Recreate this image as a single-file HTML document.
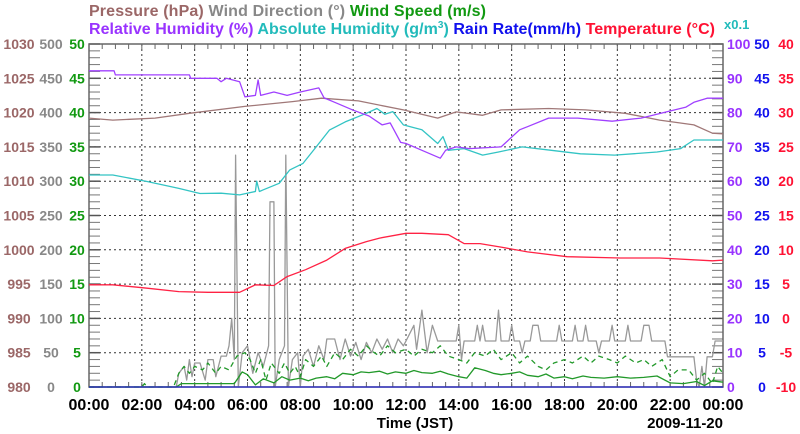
<!DOCTYPE html>
<html><head><meta charset="utf-8"><style>
html,body{margin:0;padding:0;background:#fff;}
svg{display:block;font-family:"Liberation Sans",Arial,sans-serif;font-weight:bold;}
</style></head><body>
<svg id="chart" width="800" height="434" viewBox="0 0 800 434">
<g font-size="16">
<text x="89" y="16" textLength="397" lengthAdjust="spacing"><tspan fill="#9b6767">Pressure (hPa)</tspan> <tspan fill="#888">Wind Direction (°)</tspan> <tspan fill="#119911">Wind Speed (m/s)</tspan></text>
<text x="89" y="34" textLength="626" lengthAdjust="spacing"><tspan fill="#9933ff">Relative Humidity (%)</tspan> <tspan fill="#22bbbb">Absolute Humidity (g/m<tspan font-size="10" dy="-6">3</tspan><tspan dy="6">)</tspan></tspan> <tspan fill="#1111ee">Rain Rate(mm/h)</tspan> <tspan fill="#ff1133">Temperature (°C)</tspan></text>
<text x="724" y="29" font-size="13" fill="#22bbbb">x0.1</text>
</g>
</svg>
<script>
const hours = [0,2,4,6,8,10,12,14,16,18,20,22,24];
const hourLabels = ["00:00","02:00","04:00","06:00","08:00","10:00","12:00","14:00","16:00","18:00","20:00","22:00","00:00"];
const pressureTicks = [980,985,990,995,1000,1005,1010,1015,1020,1025,1030];
const dirTicks = [0,50,100,150,200,250,300,350,400,450,500];
const speedTicks = [0,5,10,15,20,25,30,35,40,45,50];
const rhTicks = [0,10,20,30,40,50,60,70,80,90,100];
const rainTicks = [0,5,10,15,20,25,30,35,40,45,50];
const tempTicks = [-10,-5,0,5,10,15,20,25,30,35,40];

const pressT = [0,0.9,2.5,3.8,5.9,7.7,8.8,10.2,11.9,13.2,13.9,14.9,15.6,17.4,18.8,20.3,21.6,22.9,23.6,24];
const pressV = [1019.2,1018.9,1019.2,1019.9,1020.9,1021.6,1022.1,1021.7,1020.4,1019.2,1020.1,1019.6,1020.4,1020.6,1020.4,1019.9,1018.9,1018.2,1017.0,1016.9];

const rhT = [0,0.95,1.0,3.8,3.85,4.84,5.0,5.2,5.7,5.9,6.3,6.4,6.5,7.0,7.5,8.0,8.7,8.9,9.3,10.0,10.6,11.1,11.4,11.8,12.0,12.6,13.3,13.5,13.9,14.4,15.6,16.3,16.6,17.4,18.5,19.8,20.9,21.9,22.6,22.9,23.4,24];
const rhV = [92.2,92.2,91,91,90,90,89,90,89,84.6,85,89.5,85,86,85,86,87.2,84.3,83,80.7,79,76.4,77,71.3,71,69,66.7,69,70,69.5,70,75,75.9,78.4,78.4,77.5,78.4,80.3,81.6,83,84.2,84.2];

const ahT = [0,0.9,2.2,3.4,4.2,5.0,5.7,6.3,6.35,6.45,6.6,7.2,7.6,8.1,8.6,9.1,9.7,10.5,10.9,11.2,11.5,11.9,12.6,13.2,13.4,13.6,14.2,14.9,15.5,16.4,17.5,18.6,19.9,21.5,22.4,22.9,23.6,24];
const ahV = [61.8,61.8,59.9,57.9,56.4,56.5,56,57,60,57,57.5,59.4,63.3,65.2,70,74.9,77.3,79.8,81.2,79.5,80.3,76.4,75,71,73,69,69.5,67.6,68.5,70,69,68,67.6,68.5,69.5,72,72,72];

const tempT = [0,0.9,2.2,3.4,4.5,5.7,6.3,7.0,7.5,8.2,9.0,9.7,10.5,11.0,12.0,12.6,13.6,14.2,14.8,15.6,16.6,18.1,20.1,21.6,23.6,24];
const tempV = [4.9,4.9,4.4,3.9,3.8,3.8,4.9,4.8,6.1,7.1,8.5,10.2,11.2,11.7,12.4,12.4,12.2,10.9,10.9,10.4,9.7,9.0,8.8,8.8,8.4,8.5];

const rainT = [0,24];
const rainV = [0,0];

const dirT = [0,3.3,3.4,3.6,3.7,3.8,3.9,4.0,4.2,4.4,4.5,4.7,4.8,5.0,5.2,5.3,5.4,5.5,5.55,5.65,5.8,6.0,6.2,6.4,6.6,6.8,6.85,7.0,7.05,7.2,7.4,7.45,7.55,7.7,7.9,8.0,8.1,8.3,8.5,8.7,8.9,9.0,9.3,9.5,9.7,9.9,10.1,10.3,10.5,10.7,10.9,11.1,11.3,11.5,11.7,11.9,12.0,12.3,12.4,12.6,12.8,13.0,13.2,13.9,14.0,14.1,14.2,14.6,14.7,14.8,14.9,15.0,15.4,15.5,15.6,15.9,16.0,16.1,16.3,16.4,16.5,16.7,16.8,17.0,17.1,17.7,17.8,17.9,18.3,18.4,18.5,18.7,18.8,18.9,19.2,19.3,19.4,19.7,19.8,19.9,20.3,20.4,20.5,20.9,21.0,21.2,21.3,21.8,21.9,22.9,23.0,23.1,23.2,23.3,23.4,23.6,23.7,24];
const dirV = [0,0,20,30,10,40,15,35,35,10,40,40,15,45,45,60,100,40,338,0,50,60,20,50,30,60,270,270,0,40,60,338,0,40,50,0,45,55,30,60,40,70,70,40,70,45,65,40,65,50,70,55,70,50,70,60,67,90,55,112,50,90,67,67,90,40,67,67,90,67,90,67,67,112,67,67,90,67,67,50,67,67,90,90,67,67,90,67,67,90,67,67,90,67,67,50,67,67,90,67,67,90,67,67,90,90,67,67,44,44,10,0,30,0,44,44,67,67];

const gustT = [0,2.0,2.1,2.2,3.2,3.4,3.6,3.8,4.0,4.3,4.5,4.8,5.0,5.3,5.6,5.9,6.1,6.3,6.5,6.7,6.9,7.2,7.4,7.6,7.8,8.0,8.2,8.5,8.8,9.0,9.3,9.6,9.9,10.2,10.5,10.8,11.0,11.3,11.6,12.0,12.3,12.6,13.0,13.3,13.6,14.0,14.3,14.6,15.0,15.3,15.6,16.0,16.3,16.6,17.0,17.3,17.6,18.0,18.3,18.7,19.0,19.3,19.7,20.0,20.3,20.7,21.0,21.3,21.7,22.0,22.3,22.7,23.0,23.3,23.6,23.8,24];
const gustV = [0,0,0.5,0,0,2,3,2,3,2.5,3.5,2,3,2.5,4.5,5,4,2,4,1,3.5,2,3.5,2,3,1.5,4,3,4.5,3,5,4,5.5,4.5,6,5,4.5,6,5,5.5,4.5,5.5,5,6,4.5,4,3.5,5,4.5,5.5,4,5,3.5,4.5,3,2.5,3.5,4,3.5,4.5,3.5,4.5,4,3.5,4.5,3.5,4,3,4,1.5,2.5,2.5,1,2,0.5,3,2];

const avgT = [0,3.3,3.5,5.5,5.8,6.0,6.3,6.6,7.0,7.3,7.6,8.0,8.3,8.6,9.0,9.3,9.6,10.0,10.3,10.6,11.0,11.3,11.6,12.0,12.3,12.6,13.0,13.3,13.6,14.0,14.3,14.6,15.0,15.3,15.6,16.0,16.3,16.6,17.0,17.3,17.6,18.0,18.3,18.7,19.0,19.5,20.0,20.5,21.0,21.5,22.0,22.5,23.0,23.3,23.6,24];
const avgV = [0,0,0.5,0.5,2.2,1.8,0.3,1.2,0.6,1.5,1,1.3,0.9,1.3,1.5,1.2,2,1.8,2.2,2.1,2.3,1.9,2.2,2,2.4,2.1,2,2.3,1.9,1.5,1.3,2.8,2.4,2,1.8,2,2.2,1.7,1.5,1.9,1.3,1.5,1.2,1.6,1.4,1.3,1.5,1.3,1.4,1.6,0.6,0.5,0.8,0.2,0.9,0.7];

const svg = document.getElementById('chart');
const NS = 'http://www.w3.org/2000/svg';
const L = 89, R = 723, T = 44, B = 387;
function xs(t){ return L + (t/24)*(R-L); }
function lin(min,max){ return v => B - (v-min)/(max-min)*(B-T); }
const yP = lin(980,1030), yD = lin(0,500), yS = lin(0,50), yH = lin(0,100), yRn = lin(0,50), yTm = lin(-10,40);
function mk(tag, attrs){ const e = document.createElementNS(NS, tag); for (const k in attrs) e.setAttribute(k, attrs[k]); svg.appendChild(e); return e; }

for (let i=1;i<10;i++){
  const y = T + i*(B-T)/10;
  const g = mk('line',{x1:L,x2:R,y1:y,y2:y,stroke:'#333','stroke-width':1,'stroke-dasharray':'2,3'});
  
  
}
for (let i=1;i<hours.length-1;i++){
  const x = xs(hours[i]);
  const g = mk('line',{x1:x,x2:x,y1:T,y2:B,stroke:'#333','stroke-width':1,'stroke-dasharray':'2,3'});
  
  
}
for (let i=0;i<=50;i++){
  const y = T + i*(B-T)/50;
  const major = i%5===0;
  const a = mk('line',{x1:L,x2:L+11,y1:y,y2:y,stroke:major?'#555':'#777','stroke-width':major?1.5:1});
  
  
  const b = mk('line',{x1:R-11,x2:R,y1:y,y2:y,stroke:major?'#555':'#777','stroke-width':major?1.5:1});
  
  
}
for (let i=1;i<48;i++){
  const x = L + i*(R-L)/48;
  const a = mk('line',{x1:x,x2:x,y1:B-5,y2:B,stroke:'#666','stroke-width':1});
  
  
  const b = mk('line',{x1:x,x2:x,y1:T,y2:T+5,stroke:'#666','stroke-width':1});
  
  
}
const frame = mk('rect',{x:L,y:T,width:R-L,height:B-T,fill:'none',stroke:'#666','stroke-width':1.5});



function series(tArr, vArr, ys, color, name, extra){
  const pts = tArr.map((t,i)=> xs(t).toFixed(1)+','+ys(vArr[i]).toFixed(1)).join(' ');
  const p = mk('polyline', Object.assign({points:pts,fill:'none',stroke:color,'stroke-width':1.3,'stroke-linejoin':'round'}, extra||{}));
  
  
}
series(dirT, dirV, yD, '#999', 'wind-direction-line');
series(gustT, gustV, yS, '#22992a', 'wind-gust-line', {'stroke-dasharray':'5,4'});
series(avgT, avgV, yS, '#22992a', 'wind-speed-line');
series(rainT, rainV, yRn, '#2222cc', 'rain-rate-line');
series(pressT, pressV, yP, '#a07878', 'pressure-line');
series(ahT, ahV, yH, '#33c4c4', 'absolute-humidity-line');
series(rhT, rhV, yH, '#a040ff', 'relative-humidity-line');
series(tempT, tempV, yTm, '#ff2244', 'temperature-line');

function label(x,y,txt,color,anchor,name,size){
  const e = mk('text',{x:x,y:y,fill:color,'text-anchor':anchor,'font-size':size||14});
  e.textContent = txt;
  
  
}
for (let i=0;i<11;i++){
  label(19, yP(pressureTicks[i])+5, pressureTicks[i], '#9b6767','middle','pressure-tick-label');
  label(51, yD(dirTicks[i])+5, dirTicks[i], '#888','middle','wind-direction-tick-label');
  label(77, yS(speedTicks[i])+5, speedTicks[i], '#119911','middle','wind-speed-tick-label');
  label(727, yH(rhTicks[i])+5, rhTicks[i], '#9933ff','start','humidity-tick-label');
  label(762, yRn(rainTicks[i])+5, rainTicks[i], '#1111ee','middle','rain-rate-tick-label');
  label(786, yTm(tempTicks[i])+5, tempTicks[i], '#ff1133','middle','temperature-tick-label');
}
for (let i=0;i<hours.length;i++){
  label(xs(hours[i]), 410, hourLabels[i], '#000','middle','x-tick-label',16);
}
label(415, 428, 'Time (JST)', '#000','middle','x-axis-title',15);
label(723, 428, '2009-11-20', '#000','end','date-label',15);
</script>
</body></html>
